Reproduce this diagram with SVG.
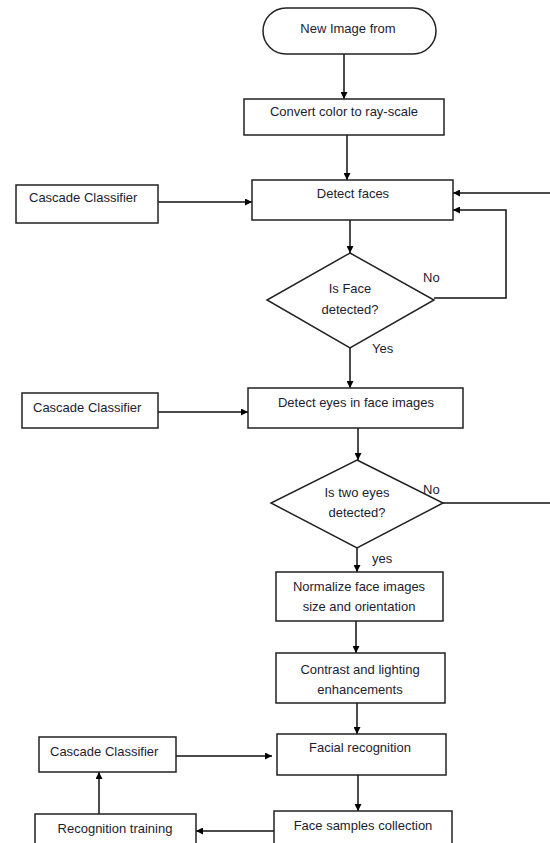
<svg xmlns="http://www.w3.org/2000/svg" width="550" height="843" viewBox="0 0 550 843">
<defs>
<marker id="ah" viewBox="0 0 10 10" refX="10" refY="5" markerWidth="7" markerHeight="7" orient="auto" markerUnits="userSpaceOnUse">
<path d="M0,0 L10,5 L0,10 z" fill="#000"/>
</marker>
<style>
.box{fill:#fff;stroke:#222;stroke-width:1.5}
.ln{fill:none;stroke:#111;stroke-width:1.5}
.arr{fill:none;stroke:#111;stroke-width:1.5;marker-end:url(#ah)}
text{font-family:"Liberation Sans",Arial,sans-serif;font-size:13px;fill:#1c1c30}
.c{text-anchor:middle}
</style>
</defs>
<rect width="550" height="843" fill="#fff"/>
<g id="connectors">
<line class="arr" x1="344" y1="54" x2="344" y2="99"/>
<line class="arr" x1="347" y1="135" x2="347" y2="180"/>
<line class="arr" x1="550" y1="193" x2="453" y2="193"/>
<polyline class="arr" points="434,298 506,298 506,210 453,210"/>
<line class="arr" x1="158" y1="202" x2="252" y2="202"/>
<line class="arr" x1="350" y1="220" x2="350" y2="253"/>
<line class="arr" x1="350" y1="348" x2="350" y2="388"/>
<line class="arr" x1="158" y1="412" x2="248" y2="412"/>
<line class="arr" x1="358" y1="428" x2="358" y2="460"/>
<line class="ln" x1="443" y1="503" x2="550" y2="503"/>
<line class="arr" x1="357" y1="548" x2="357" y2="572"/>
<line class="arr" x1="356" y1="621" x2="356" y2="653"/>
<line class="arr" x1="357" y1="703" x2="357" y2="734"/>
<line class="arr" x1="176" y1="756" x2="272" y2="756"/>
<line class="arr" x1="358" y1="775" x2="358" y2="811"/>
<line class="arr" x1="274" y1="831" x2="196" y2="831"/>
<line class="arr" x1="99" y1="814" x2="99" y2="772"/>
</g>
<g id="start">
<rect class="box" x="263" y="8" width="173" height="46" rx="23"/>
<text class="c" x="348" y="33">New Image from</text>
</g>
<g id="convert">
<rect class="box" x="244" y="99" width="200" height="36"/>
<text class="c" x="344" y="116">Convert color to ray-scale</text>
</g>
<g id="detect-faces">
<rect class="box" x="252" y="180" width="201" height="40"/>
<text class="c" x="353" y="198">Detect faces</text>
</g>
<g id="cascade1">
<rect class="box" x="16" y="185" width="142" height="38"/>
<text x="29" y="202">Cascade Classifier</text>
</g>
<g id="face-decision">
<polygon class="box" points="350,253 434,300 350,348 267,300"/>
<text class="c" x="350" y="293">Is Face</text>
<text class="c" x="350" y="314">detected?</text>
<text x="423" y="282">No</text>
<text x="372" y="353">Yes</text>
</g>
<g id="detect-eyes">
<rect class="box" x="248" y="388" width="215" height="40"/>
<text class="c" x="356" y="407">Detect eyes in face images</text>
</g>
<g id="cascade2">
<rect class="box" x="22" y="393" width="136" height="35"/>
<text x="33" y="412">Cascade Classifier</text>
</g>
<g id="eyes-decision">
<polygon class="box" points="357,460 443,503 357,548 271,503"/>
<text class="c" x="357" y="497">Is two eyes</text>
<text class="c" x="357" y="517">detected?</text>
<text x="423" y="494">No</text>
<text x="372" y="563">yes</text>
</g>
<g id="normalize">
<rect class="box" x="276" y="572" width="167" height="49"/>
<text class="c" x="359" y="591">Normalize face images</text>
<text class="c" x="359" y="611">size and orientation</text>
</g>
<g id="contrast">
<rect class="box" x="276" y="653" width="169" height="50"/>
<text class="c" x="360" y="674">Contrast and lighting</text>
<text class="c" x="360" y="694">enhancements</text>
</g>
<g id="facial-recognition">
<rect class="box" x="277" y="734" width="169" height="41"/>
<text class="c" x="360" y="752">Facial recognition</text>
</g>
<g id="cascade3">
<rect class="box" x="39" y="737" width="137" height="35"/>
<text x="50" y="756">Cascade Classifier</text>
</g>
<g id="face-samples">
<rect class="box" x="274" y="811" width="178" height="40"/>
<text class="c" x="363" y="830">Face samples collection</text>
</g>
<g id="recognition-training">
<rect class="box" x="35" y="814" width="161" height="40"/>
<text class="c" x="115" y="833">Recognition training</text>
</g>
</svg>
